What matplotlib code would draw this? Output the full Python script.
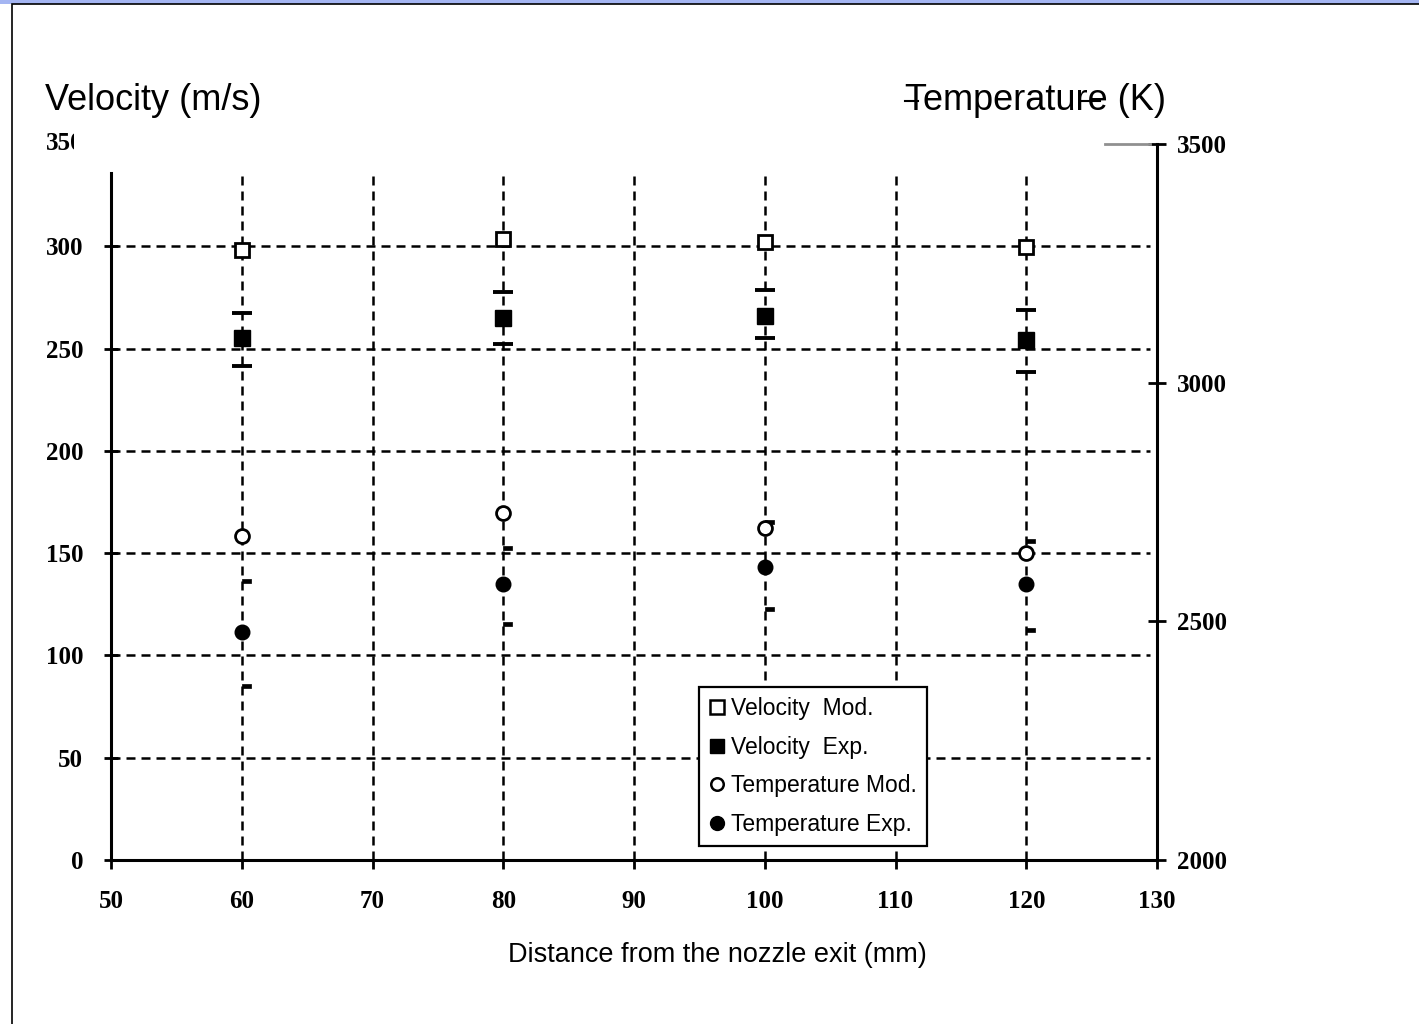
import matplotlib
matplotlib.use("Agg")
import matplotlib.pyplot as plt
from matplotlib.lines import Line2D
from matplotlib.patches import Rectangle
from matplotlib.transforms import Bbox, TransformedBbox
import numpy as np

# data
distance = [60, 80, 100, 120]
vel_mod = [298, 303.5, 302, 299.5]
vel_exp = [255, 265, 266, 254]
vel_exp_hi = [267.5, 277.5, 278.5, 269]
vel_exp_lo = [241.5, 252, 255, 238.5]
temp_mod = [2679, 2727, 2696, 2643]
temp_exp = [2478, 2578, 2614, 2578]
temp_exp_hi = [2584, 2654, 2708, 2668]
temp_exp_lo = [2365, 2494, 2526, 2482]

x_ticks = [50, 60, 70, 80, 90, 100, 110, 120, 130]
vel_ticks = [0, 50, 100, 150, 200, 250, 300]
temp_ticks = [2000, 2500, 3000, 3500]

W, H = 1419, 1024
fig = plt.figure(figsize=(W / 100, H / 100), dpi=100)

# slide frame
fig.patches.append(Rectangle((0, 1 - 4 / H), 1, 4 / H, transform=fig.transFigure,
                             facecolor="#a4b5f2", edgecolor="none", zorder=0))
fig.patches.append(Rectangle((12 / W, -0.05), 1.2, 1.05 - 4 / H, transform=fig.transFigure,
                             fill=False, edgecolor="black", lw=1.2, zorder=0))

ax = fig.add_axes([111 / W, 1 - 860 / H, (1157 - 111) / W, (860 - 144) / H])
ax.set_facecolor("none")
ax.set_xlim(50, 130)
ax.set_ylim(0, 350)

tick_font = dict(family="Liberation Serif", weight="bold", size=18)
dash = (0, (3.6, 2.4))

# grid
ax.hlines(vel_ticks[1:], 50, 129.45, colors="black", lw=1.8, linestyles=dash, zorder=1)
ax.vlines(x_ticks[1:-1], 0, 336, colors="black", lw=1.8, linestyles=dash, zorder=1)

# velocity
ax.errorbar(distance, vel_exp,
            yerr=[np.subtract(vel_exp, vel_exp_lo), np.subtract(vel_exp_hi, vel_exp)],
            fmt="none", ecolor="black", elinewidth=0, capsize=7.2, capthick=2.8, zorder=3)
ax.plot(distance, vel_exp, ls="none", marker="s", ms=11, mfc="black", mec="black", zorder=4)
ax.plot(distance, vel_mod, ls="none", marker="s", ms=10, mfc="white", mec="black", mew=2, zorder=4)

for s in ["top", "right"]:
    ax.spines[s].set_visible(False)
ax.spines["left"].set_bounds(0, 336)
ax.spines["left"].set_linewidth(2.2)
ax.spines["bottom"].set_linewidth(2.2)

ax.set_xticks(x_ticks)
ax.set_yticks(vel_ticks)
ax.tick_params(axis="y", direction="inout", length=10, width=2, pad=15)
ax.tick_params(axis="x", direction="out", length=6.5, width=2, pad=15)
for lab in ax.get_xticklabels() + ax.get_yticklabels():
    lab.set(**tick_font)

# temperature on the right axis
ax2 = ax.twinx()
ax2.set_ylim(2000, 3500)
ax2.set_yticks(temp_ticks)
for s in ["top", "left", "bottom"]:
    ax2.spines[s].set_visible(False)
ax2.spines["right"].set_linewidth(2.2)
ax2.tick_params(axis="y", direction="inout", length=13, width=2, pad=8)
for lab in ax2.get_yticklabels():
    lab.set(**tick_font)

half_cap = [(0, -0.2), (1, -0.2), (1, 0.2), (0, 0.2), (0, -0.2)]
ax2.plot(distance, temp_exp_hi, ls="none", marker=half_cap, ms=13, mfc="black", mec="black", mew=0.5, zorder=3)
ax2.plot(distance, temp_exp_lo, ls="none", marker=half_cap, ms=13, mfc="black", mec="black", mew=0.5, zorder=3)
ax2.plot(distance, temp_exp, ls="none", marker="o", ms=10.5, mfc="black", mec="black", zorder=4)
ax2.plot(distance, temp_mod, ls="none", marker="o", ms=10, mfc="white", mec="black", mew=2, zorder=4)
ax2.plot([126.0, 129.45], [3500, 3500], color="#909090", lw=2, clip_on=False)

# clipped "350" label at the top left
t = fig.text(83 / W, 1 - 143 / H, "350", ha="right", va="center", **tick_font)
t.set_clip_box(TransformedBbox(Bbox.from_extents(0, 0, 74 / W, 1), fig.transFigure))
t.set_clip_on(True)

sans = "Liberation Sans"
fig.text(45 / W, 1 - 101 / H, "Velocity (m/s)", ha="left", va="center", family=sans, size=26)
fig.text(905 / W, 1 - 101 / H, "Temperature (K)", ha="left", va="center", family=sans, size=26)
fig.lines.append(Line2D([905 / W, 918 / W], [1 - 101 / H] * 2, transform=fig.transFigure, color="black", lw=1.5))
fig.lines.append(Line2D([1080 / W, 1100 / W], [1 - 101 / H] * 2, transform=fig.transFigure, color="black", lw=1.5))
fig.text(717 / W, 1 - 955 / H, "Distance from the nozzle exit (mm)", ha="center", va="center",
         family=sans, size=19.5)

handles = [
    Line2D([], [], ls="none", marker="s", ms=10, mfc="white", mec="black", mew=1.8),
    Line2D([], [], ls="none", marker="s", ms=10, mfc="black", mec="black"),
    Line2D([], [], ls="none", marker="o", ms=9, mfc="white", mec="black", mew=1.8),
    Line2D([], [], ls="none", marker="o", ms=10, mfc="black", mec="black"),
]
labels = ["Velocity  Mod.", "Velocity  Exp.", "Temperature Mod.", "Temperature Exp."]
leg = ax2.legend(handles, labels, loc="upper left", bbox_to_anchor=(699 / W, 1 - 687 / H),
                 bbox_transform=fig.transFigure, borderaxespad=0, fancybox=False,
                 edgecolor="black", framealpha=1, prop=dict(family=sans, size=16.5),
                 handlelength=0.7, handletextpad=0.25, borderpad=0.45, labelspacing=0.68)
leg.get_frame().set_linewidth(1.6)
leg.set_zorder(10)

fig.savefig("out.png", dpi=100)
